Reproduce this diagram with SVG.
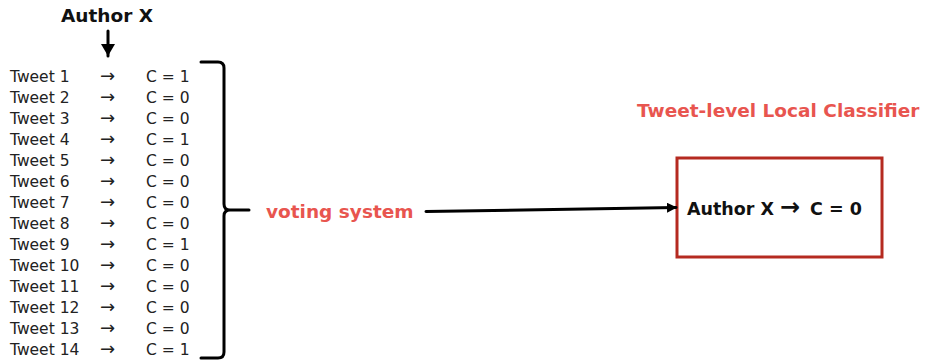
<svg xmlns="http://www.w3.org/2000/svg" width="943" height="362" viewBox="0 0 943 362">
<style>
.t{font-family:"DejaVu Sans",sans-serif;font-size:15.5px;fill:#222}
.a{font-size:18px}
.b{font-family:"DejaVu Sans",sans-serif;font-weight:bold;fill:#111}
.r{font-family:"DejaVu Sans",sans-serif;font-weight:bold;fill:#E8554F}
.ln{fill:none;stroke:#000;stroke-width:3;stroke-linecap:round;stroke-linejoin:round}
</style>
<defs>
<marker id="ah" markerWidth="10" markerHeight="10" refX="9" refY="5" orient="auto" markerUnits="userSpaceOnUse">
<path d="M0,0 L10,5 L0,10 Z" fill="#000"/>
</marker>
<marker id="ah2" markerWidth="12" markerHeight="14" refX="12" refY="7" orient="auto" markerUnits="userSpaceOnUse">
<path d="M0,0 L12,7 L0,14 Z" fill="#000"/>
</marker>
</defs>
<g id="author">
<text class="b" x="107" y="22" font-size="18.5" text-anchor="middle">Author X</text>
</g>
<g id="tweets">
<text class="t" x="10" y="82">Tweet 1<tspan class="a" x="100">→</tspan><tspan x="146">C = 1</tspan></text>
<text class="t" x="10" y="103">Tweet 2<tspan class="a" x="100">→</tspan><tspan x="146">C = 0</tspan></text>
<text class="t" x="10" y="124">Tweet 3<tspan class="a" x="100">→</tspan><tspan x="146">C = 0</tspan></text>
<text class="t" x="10" y="145">Tweet 4<tspan class="a" x="100">→</tspan><tspan x="146">C = 1</tspan></text>
<text class="t" x="10" y="166">Tweet 5<tspan class="a" x="100">→</tspan><tspan x="146">C = 0</tspan></text>
<text class="t" x="10" y="187">Tweet 6<tspan class="a" x="100">→</tspan><tspan x="146">C = 0</tspan></text>
<text class="t" x="10" y="208">Tweet 7<tspan class="a" x="100">→</tspan><tspan x="146">C = 0</tspan></text>
<text class="t" x="10" y="229">Tweet 8<tspan class="a" x="100">→</tspan><tspan x="146">C = 0</tspan></text>
<text class="t" x="10" y="250">Tweet 9<tspan class="a" x="100">→</tspan><tspan x="146">C = 1</tspan></text>
<text class="t" x="10" y="271">Tweet 10<tspan class="a" x="100">→</tspan><tspan x="146">C = 0</tspan></text>
<text class="t" x="10" y="292">Tweet 11<tspan class="a" x="100">→</tspan><tspan x="146">C = 0</tspan></text>
<text class="t" x="10" y="313">Tweet 12<tspan class="a" x="100">→</tspan><tspan x="146">C = 0</tspan></text>
<text class="t" x="10" y="334">Tweet 13<tspan class="a" x="100">→</tspan><tspan x="146">C = 0</tspan></text>
<text class="t" x="10" y="355">Tweet 14<tspan class="a" x="100">→</tspan><tspan x="146">C = 1</tspan></text>
</g>
<g id="brace">
<path class="ln" d="M201,62 L218,62 Q224,62 224,68 L224,204 Q224,210 230,210 L249,210 M230,210 Q224,210 224,216 L224,352 Q224,358 218,358 L201,358"/>
</g>
<g id="voting">
<text class="r" x="266" y="218" font-size="18.5">voting system</text>
</g>
<g id="classifier">
<text class="r" x="637" y="117" font-size="18.5">Tweet-level Local Classifier</text>
<rect x="677" y="158" width="205" height="99" fill="none" stroke="#B52A20" stroke-width="3"/>
<text class="b" x="687" y="215" font-size="17.5">Author X<tspan x="780" font-size="24">→</tspan><tspan x="810">C = 0</tspan></text>
</g>
<g id="connectors">
<path class="ln" d="M108,31 L108,56" marker-end="url(#ah2)"/>
<path class="ln" d="M426,211.5 L676,207.5" marker-end="url(#ah)"/>
</g>
</svg>
